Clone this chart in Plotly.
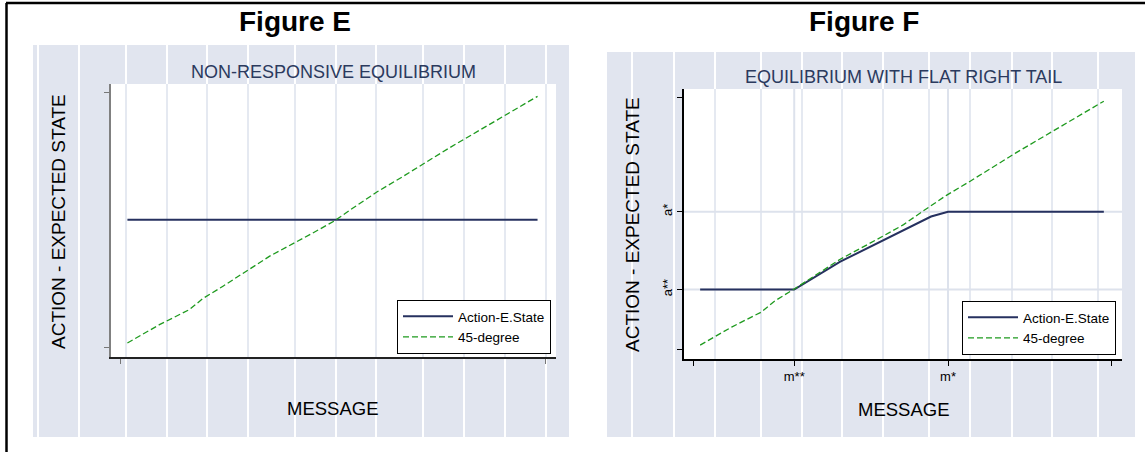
import plotly.graph_objects as go

# ---- data -------------------------------------------------------------
# 45-degree reference: expected state against message
message = [0.0, 0.078, 0.151, 0.184, 0.233, 0.346, 0.450, 0.504, 0.550, 0.610, 0.668, 0.782, 1.0]
expected = [0.0, 0.074, 0.135, 0.180, 0.230, 0.351, 0.444, 0.494, 0.547, 0.614, 0.671, 0.788, 1.0]

# Figure E: non-responsive equilibrium (constant action)
message_e = [0.0, 1.0]
action_e = [0.5, 0.5]

# Figure F: equilibrium with flat right tail
m_ss, m_s = 0.233, 0.614       # m**, m*
a_ss, a_s = 0.228, 0.547       # a**, a*
message_f = [0.0, m_ss, 0.347, 0.458, 0.572, m_s, 1.0]
action_f = [a_ss, a_ss, 0.342, 0.432, 0.527, a_s, a_s]

x_ticks_e = [-0.017, 1.02]
y_ticks_e = [-0.02, 1.016]
x_ticks_f = [-0.017, m_ss, m_s, 1.02]
x_labels_f = ["", "m**", "m*", ""]
y_ticks_f = [-0.016, a_ss, a_s, 1.016]
y_labels_f = ["", "a**", "a*", ""]

# ---- styling ----------------------------------------------------------
W, H = 1145, 452
FONT = "Liberation Sans, Arial, sans-serif"
BG = "#E1E5EF"
GRID = "#DDE2EC"
NAVY = "#26315F"
GREEN = "#1E9A1E"
TITLE_NAVY = "#2B3A5E"


def px(x):
    return x / W


def py(y):
    return 1 - y / H


fig = go.Figure()

fig.add_trace(go.Scatter(x=message_e, y=action_e, mode="lines", name="Action-E.State",
                         line=dict(color=NAVY, width=2), xaxis="x", yaxis="y",
                         legend="legend"))
fig.add_trace(go.Scatter(x=message, y=expected, mode="lines", name="45-degree",
                         line=dict(color=GREEN, width=1.3, dash="6px,3px"),
                         xaxis="x", yaxis="y", legend="legend"))
fig.add_trace(go.Scatter(x=message_f, y=action_f, mode="lines", name="Action-E.State",
                         line=dict(color=NAVY, width=2), xaxis="x2", yaxis="y2",
                         legend="legend2"))
fig.add_trace(go.Scatter(x=message, y=expected, mode="lines", name="45-degree",
                         line=dict(color=GREEN, width=1.3, dash="6px,3px"),
                         xaxis="x2", yaxis="y2", legend="legend2"))

# panel geometry in pixels
panels = [
    dict(bg=(33, 45, 569, 437), plot=(111, 84, 556, 357),
         stripes=[38, 79, 126, 167, 207, 248, 295, 336, 376, 423, 464, 505, 546]),
    dict(bg=(607, 52, 1135, 437), plot=(684, 89, 1122, 359),
         stripes=[632, 674, 715, 761, 802, 842, 883, 929, 970, 1012, 1052, 1098]),
]

shapes = []
for p in panels:
    x0, y0, x1, y1 = p["bg"]
    shapes.append(dict(type="rect", xref="paper", yref="paper", layer="below",
                       x0=px(x0), x1=px(x1), y0=py(y1), y1=py(y0),
                       fillcolor=BG, line=dict(width=0)))
    for s in p["stripes"]:
        shapes.append(dict(type="line", xref="paper", yref="paper", layer="below",
                           x0=px(s), x1=px(s), y0=py(y1), y1=py(y0),
                           line=dict(color="white", width=2)))
    a0, b0, a1, b1 = p["plot"]
    shapes.append(dict(type="rect", xref="paper", yref="paper", layer="below",
                       x0=px(a0), x1=px(a1), y0=py(b1), y1=py(b0),
                       fillcolor="white", line=dict(width=0)))
    for s in p["stripes"]:
        if a0 < s < a1:
            shapes.append(dict(type="line", xref="paper", yref="paper", layer="below",
                               x0=px(s), x1=px(s), y0=py(b1), y1=py(b0),
                               line=dict(color=GRID, width=1.5)))

# grid lines at the labelled ticks of Figure F
for v in [m_ss, m_s]:
    shapes.append(dict(type="line", xref="x2", yref="y2 domain", layer="below",
                       x0=v, x1=v, y0=0, y1=1, line=dict(color=GRID, width=2)))
for v in [a_ss, a_s]:
    shapes.append(dict(type="line", xref="x2 domain", yref="y2", layer="below",
                       x0=0, x1=1, y0=v, y1=v, line=dict(color=GRID, width=2)))

# outer frame (top and left edges)
shapes.append(dict(type="line", xref="paper", yref="paper", x0=px(6), x1=1,
                   y0=py(3), y1=py(3), line=dict(color="black", width=2.5)))
shapes.append(dict(type="line", xref="paper", yref="paper", x0=px(6.5), x1=px(6.5),
                   y0=0, y1=py(3), line=dict(color="black", width=2.5)))

annotations = []


def text(x, y, s, size, color="black", angle=0, bold=False):
    annotations.append(dict(xref="paper", yref="paper", x=px(x), y=py(y),
                            xanchor="center", yanchor="middle", showarrow=False,
                            text=f"<b>{s}</b>" if bold else s, textangle=angle,
                            font=dict(family=FONT, size=size, color=color)))


text(295, 21, "Figure E", 28, bold=True)
text(864, 21, "Figure F", 28, bold=True)
text(333, 72, "NON-RESPONSIVE EQUILIBRIUM", 18, TITLE_NAVY)
text(903, 77, "EQUILIBRIUM WITH FLAT RIGHT TAIL", 18, TITLE_NAVY)
text(58, 222, "ACTION - EXPECTED STATE", 19, angle=-90)
text(633, 225, "ACTION - EXPECTED STATE", 19, angle=-90)
text(333, 408, "MESSAGE", 18.5)
text(904, 409, "MESSAGE", 18.5)

axis_common = dict(showgrid=False, zeroline=False, showline=True, ticks="outside",
                   ticklen=5, fixedrange=True)

legend_common = dict(xanchor="right", yanchor="bottom", bgcolor="white",
                     bordercolor="black", borderwidth=1, itemwidth=50,
                     font=dict(family=FONT, size=13.5, color="black"),
                     tracegroupgap=0)

fig.update_layout(
    width=W, height=H,
    margin=dict(l=0, r=0, t=0, b=0),
    paper_bgcolor="white",
    plot_bgcolor="rgba(0,0,0,0)",
    font=dict(family=FONT, color="black"),
    showlegend=True,
    xaxis=dict(domain=[px(111), px(556)], range=[-0.04, 1.045], anchor="y",
               tickvals=x_ticks_e, showticklabels=False,
               linecolor="#222222", linewidth=1.5, tickcolor="#777777",
               **axis_common),
    yaxis=dict(domain=[py(357), py(84)], range=[-0.057, 1.05], anchor="x",
               tickvals=y_ticks_e, showticklabels=False,
               linecolor="#808080", linewidth=2, tickcolor="#777777",
               **axis_common),
    xaxis2=dict(domain=[px(684), px(1122)], range=[-0.04, 1.045], anchor="y2",
                tickvals=x_ticks_f, ticktext=x_labels_f,
                tickfont=dict(family=FONT, size=13, color="black"),
                linecolor="black", linewidth=1.5, tickcolor="black",
                **axis_common),
    yaxis2=dict(domain=[py(359), py(89)], range=[-0.057, 1.05], anchor="x2",
                tickvals=y_ticks_f, ticktext=y_labels_f, tickangle=-90,
                tickfont=dict(family=FONT, size=13, color="black"),
                linecolor="black", linewidth=1.5, tickcolor="black",
                **axis_common),
    legend=dict(x=px(551), y=py(354), **legend_common),
    legend2=dict(x=px(1116), y=py(355), **legend_common),
    shapes=shapes,
    annotations=annotations,
)

fig.write_html("out.html")
